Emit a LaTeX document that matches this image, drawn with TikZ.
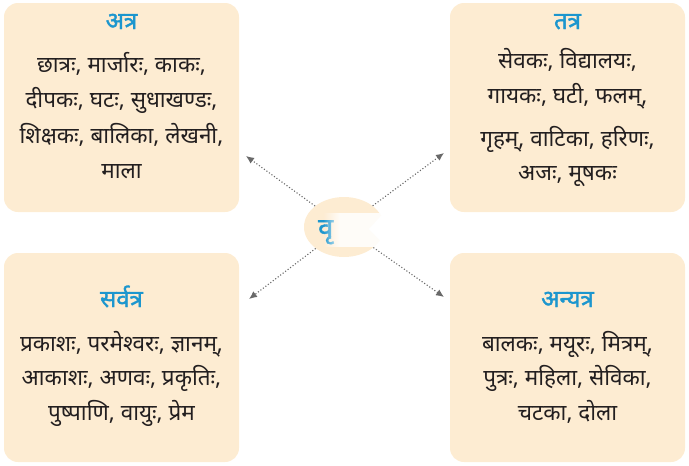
\documentclass[tikz,border=0pt]{standalone}
\usepackage{fontspec}
\newfontfamily\deva[Script=Devanagari]{Noto Sans}
\newfontfamily\devab[Script=Devanagari,FakeBold=1.5]{Noto Sans}
\usetikzlibrary{fadings,arrows.meta,shapes.geometric}
\tikzfading[name=fadeR, left color=transparent!100, right color=transparent!0]
\definecolor{peach}{RGB}{253,236,210}
\definecolor{ttl}{RGB}{28,150,206}
\definecolor{txt}{RGB}{35,31,32}
\definecolor{arr}{RGB}{105,105,105}
\begin{document}
\begin{tikzpicture}[x=1pt,y=-1pt,
  box/.style={fill=peach, rounded corners=14pt, inner sep=0pt, minimum width=235pt, minimum height=209pt},
  ttlstyle/.style={text=ttl, font=\devab\fontsize{24}{24}\selectfont, anchor=base, inner sep=0pt},
  wline/.style={text=txt, font=\deva\fontsize{22.5}{22.5}\selectfont, anchor=base, inner sep=0pt},
  conn/.style={draw=arr, line width=1.1pt, dash pattern=on 1.1pt off 2pt, -{Latex[length=8pt,width=7pt]}}]
\useasboundingbox (0,0) rectangle (689,466);
% boxes
\node[box] (b1) at (121.5,107.5) {};
\node[box] (b2) at (567.5,107.5) {};
\node[box] (b3) at (121.5,357.5) {};
\node[box] (b4) at (567.5,357.5) {};
% box 1
\node[ttlstyle] (t1) at (121.5,29) {अत्र};
\node[wline] (l11) at (121.5,72) {छात्रः, मार्जारः, काकः,};
\node[wline] (l12) at (121.5,107) {दीपकः, घटः, सुधाखण्डः,};
\node[wline] (l13) at (121.5,143) {शिक्षकः, बालिका, लेखनी,};
\node[wline] (l14) at (121.5,178) {माला};
% box 2
\node[ttlstyle] (t2) at (567.5,29) {तत्र};
\node[wline] (l21) at (567.5,68) {सेवकः, विद्यालयः,};
\node[wline] (l22) at (567.5,103) {गायकः, घटी, फलम्,};
\node[wline] (l23) at (567.5,146) {गृहम्, वाटिका, हरिणः,};
\node[wline] (l24) at (567.5,180) {अजः, मूषकः};
% box 3
\node[ttlstyle] (t3) at (121.5,307) {सर्वत्र};
\node[wline] (l31) at (121.5,351) {प्रकाशः, परमेश्वरः, ज्ञानम्,};
\node[wline] (l32) at (121.5,385) {आकाशः, अणवः, प्रकृतिः,};
\node[wline] (l33) at (121.5,420) {पुष्पाणि, वायुः, प्रेम};
% box 4
\node[ttlstyle] (t4) at (567.5,307) {अन्यत्र};
\node[wline] (l41) at (567.5,351) {बालकः, मयूरः, मित्रम्,};
\node[wline] (l42) at (567.5,385) {पुत्रः, महिला, सेविका,};
\node[wline] (l43) at (567.5,420) {चटका, दोला};
% centre
\node[ellipse, fill=peach, minimum width=80pt, minimum height=60pt, inner sep=0pt] (c) at (344,227) {};
\node[anchor=base west, inner sep=0pt, text=ttl, font=\devab\fontsize{27}{27}\selectfont] (ct) at (318,237) {वृ};
\fill[white, path fading=fadeR, fill opacity=0.85] (323,213) rectangle (340,247);
\fill[white, fill opacity=0.85] (340,213) rectangle (392,247);
\fill[white] (390,206) -- (369,229) -- (390,251) -- cycle;
% connectors
\coordinate (e1) at (246,156);
\coordinate (e2) at (444,153);
\coordinate (e3) at (249,299);
\coordinate (e4) at (444,297);
\draw[conn] (c) -- (e1);
\draw[conn] (c) -- (e2);
\draw[conn] (c) -- (e3);
\draw[conn] (c) -- (e4);
\end{tikzpicture}
\end{document}
